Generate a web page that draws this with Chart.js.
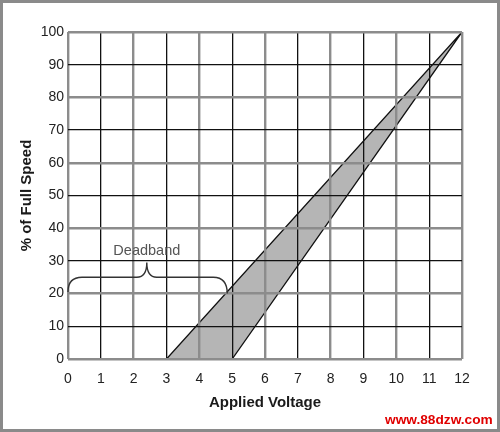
<!DOCTYPE html>
<html>
<head>
  <title>Deadband</title>
  <script src="https://cdn.jsdelivr.net/npm/chart.js"></script>
  <style>
    body { margin: 0; background: #fff; }
    #wrap { position: relative; width: 500px; height: 432px; }
    #frame { position: absolute; left: 0; top: 0; width: 500px; height: 432px; box-sizing: border-box; border: 3px solid #8a8a8a; pointer-events: none; }
    #mark { position: absolute; left: 385px; top: 412px; font: bold 13.7px "Liberation Sans", Arial, sans-serif; color: #e00000; }
  </style>
</head>
<body>
  <div id="wrap">
    <canvas id="myChart" width="500" height="432"></canvas>
    <div id="mark">www.88dzw.com</div>
    <div id="frame"></div>
  </div>

  <script>
// datos
const voltageTicks = [0, 1, 2, 3, 4, 5, 6, 7, 8, 9, 10, 11, 12];
const speedTicks = [0, 10, 20, 30, 40, 50, 60, 70, 80, 90, 100];
// banda gris: arranque a 3 V (borde izq.) y a 5 V (borde der.), ambos llegan a 100% en 12 V
const bandVoltage = [3, 12, 5, 3];
const bandSpeed = [0, 100, 0, 0];
// llave "Deadband": de 0 V a 4.85 V
const braceVoltage = [0, 2.4, 4.85];
const braceSpeed = [20.5, 25, 29.5, 20];
const braceLabel = 'Deadband';
const braceLabelSpeed = 33;

const font = '"Liberation Sans", Arial, sans-serif';

// dibuja la llave con las escalas del grafico
const bracePlugin = {
  id: 'brace',
  afterDraw(chart) {
    const x = chart.scales.x, y = chart.scales.y, c = chart.ctx;
    const x0 = x.getPixelForValue(braceVoltage[0]);
    const xm = x.getPixelForValue(braceVoltage[1]);
    const x1 = x.getPixelForValue(braceVoltage[2]);
    const yl = y.getPixelForValue(braceSpeed[0]);
    const yb = y.getPixelForValue(braceSpeed[1]);
    const yt = y.getPixelForValue(braceSpeed[2]);
    const yr = y.getPixelForValue(braceSpeed[3]);
    const r = 14;
    c.save();
    c.strokeStyle = '#333';
    c.lineWidth = 1.4;
    c.beginPath();
    c.moveTo(x0, yl);
    c.quadraticCurveTo(x0, yb, x0 + r, yb);
    c.lineTo(xm - 10, yb);
    c.quadraticCurveTo(xm, yb, xm, yt);
    c.quadraticCurveTo(xm, yb, xm + 10, yb);
    c.lineTo(x1 - r, yb);
    c.quadraticCurveTo(x1, yb, x1, yr);
    c.stroke();
    c.fillStyle = '#555';
    c.font = '14.5px ' + font;
    c.textAlign = 'center';
    c.textBaseline = 'middle';
    c.fillText(braceLabel, xm, y.getPixelForValue(braceLabelSpeed));
    c.restore();
  }
};

function gridColor(ctx) { return ctx.index % 2 ? '#111' : '#8c8c8c'; }
function gridWidth(ctx) { return ctx.index % 2 ? 1.3 : 2.4; }

const myChart = new Chart(document.getElementById('myChart'), {
  type: 'scatter',
  data: {
    datasets: [{
      data: bandVoltage.map((v, i) => ({ x: v, y: bandSpeed[i] })),
      showLine: true,
      fill: 'shape',
      backgroundColor: '#b5b5b5',
      borderColor: '#111',
      borderWidth: 1.3,
      pointRadius: 0,
      tension: 0
    }]
  },
  options: {
    responsive: false,
    animation: false,
    layout: { padding: { top: 32, right: 38, left: 0, bottom: 0 } },
    plugins: { legend: { display: false }, tooltip: { enabled: false } },
    scales: {
      x: {
        type: 'linear', min: 0, max: 12,
        afterBuildTicks: s => { s.ticks = voltageTicks.map(v => ({ value: v })); },
        afterFit: s => { s.height = 73; },
        grid: { color: gridColor, lineWidth: gridWidth, drawTicks: false, z: 1 },
        border: { display: false },
        ticks: { padding: 12, color: '#222', font: { family: font, size: 14 } },
        title: { display: true, text: 'Applied Voltage', color: '#1a1a1a',
                 font: { family: font, size: 15, weight: 'bold' }, padding: { top: 0, bottom: 20 } }
      },
      y: {
        type: 'linear', min: 0, max: 100,
        afterBuildTicks: s => { s.ticks = speedTicks.map(v => ({ value: v })); },
        afterFit: s => { s.width = 68; },
        grid: { color: gridColor, lineWidth: gridWidth, drawTicks: false, z: 1 },
        border: { display: false },
        ticks: { padding: 4, color: '#222', font: { family: font, size: 14 } },
        title: { display: true, text: '% of Full Speed', color: '#1a1a1a',
                 font: { family: font, size: 15, weight: 'bold' }, padding: { top: 18, bottom: 0 } }
      }
    }
  },
  plugins: [bracePlugin]
});
  </script>
</body>
</html>
